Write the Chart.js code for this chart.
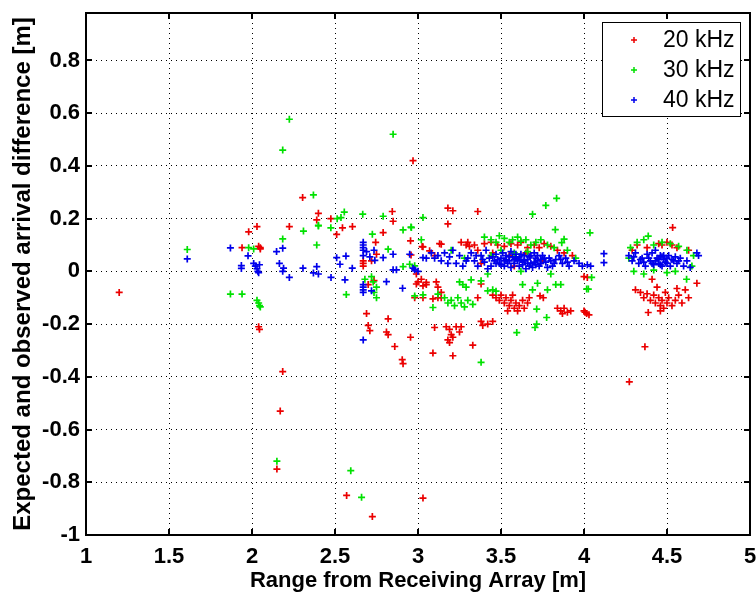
<!DOCTYPE html>
<html lang="en">
<head>
<meta charset="UTF-8">
<title>Expected and observed arrival difference</title>
<script src="https://cdn.jsdelivr.net/npm/chart.js"></script>
<style>
    html, body { margin: 0; padding: 0; background: #fff; }
    #wrap { width: 756px; height: 594px; }
</style>
</head>
<body>
<div id="wrap"><canvas id="scatter" width="756" height="594"></canvas></div>
<script>
// axis ticks
const xTicks = [1, 1.5, 2, 2.5, 3, 3.5, 4, 4.5, 5];
const yTicks = [-1, -0.8, -0.6, -0.4, -0.2, 0, 0.2, 0.4, 0.6, 0.8];
const seriesNames = ['20 kHz', '30 kHz', '40 kHz'];

// [range (m), arrival difference (m)]
const pts20 = [
    [1.20,-0.08],[1.94,0.09],[1.98,0.15],[2.03,0.17],[2.05,0.09],[2.05,0.085],[2.04,0.095],
    [2.04,-0.21],[2.045,-0.22],[2.185,-0.38],[2.17,-0.53],[2.15,-0.75],
    [2.225,0.17],[2.305,0.28],[2.39,0.195],[2.40,0.22],[2.475,0.20],[2.51,0.14],[2.545,0.165],[2.605,0.17],
    [2.57,-0.85],[2.725,-0.93],[3.03,-0.86],
    [2.67,0.04],[2.67,0.03],[2.67,0.02],[2.745,0.11],[2.75,0.065],[2.72,0.04],[2.735,-0.035],[2.70,-0.05],
    [2.79,0.147],[2.845,0.227],[2.85,0.19],[2.955,0.116],[3.025,0.094],[2.958,0.062],[2.97,0.42],
    [2.99,-0.048],[3.03,-0.055],[3.05,-0.042],
    [2.69,-0.16],[2.70,-0.205],[2.71,-0.225],[2.81,-0.23],[2.82,-0.24],[2.82,-0.18],[2.86,-0.285],
    [2.905,-0.335],[2.91,-0.35],[2.955,-0.25],
    [3.18,0.24],[3.21,0.23],[3.36,0.227],[3.18,0.18],
    [3.03,0.093],[3.14,0.103],[3.07,0.078],[3.10,0.06],
    [2.99,-0.01],[3.02,-0.03],[3.05,-0.05],[3.00,-0.04],
    [3.11,-0.04],[3.12,-0.06],[3.14,-0.08],[3.14,-0.10],[3.12,-0.10],[3.09,-0.104],[3.03,-0.10],[2.98,-0.10],
    [3.38,-0.048],[3.36,-0.10],
    [3.45,-0.09],[3.47,-0.10],[3.49,-0.11],[3.50,-0.09],[3.52,-0.12],[3.53,-0.10],[3.55,-0.13],[3.56,-0.11],
    [3.58,-0.14],[3.59,-0.12],[3.60,-0.15],[3.61,-0.13],[3.63,-0.11],[3.64,-0.14],[3.66,-0.12],[3.67,-0.10],
    [3.54,-0.15],[3.57,-0.09],[3.755,-0.10],[3.735,-0.093],
    [3.84,-0.14],[3.86,-0.15],[3.88,-0.14],[3.90,-0.155],[3.92,-0.15],[3.87,-0.16],
    [3.17,-0.21],[3.19,-0.22],[3.20,-0.24],[3.21,-0.25],[3.18,-0.26],[3.19,-0.27],[3.23,-0.21],[3.26,-0.21],
    [3.25,-0.23],[3.10,-0.213],[3.38,-0.19],[3.42,-0.20],[3.45,-0.19],[3.39,-0.205],
    [3.33,-0.28],[3.21,-0.32],[3.09,-0.31],
    [3.13,0.105],[3.26,0.11],[3.29,0.10],[3.30,0.11],[3.31,0.095],[3.34,0.10],[3.36,0.08],[3.40,0.105],
    [3.44,0.11],[3.48,0.10],[3.52,0.095],[3.56,0.105],[3.60,0.10],[3.62,0.11],[3.66,0.09],[3.70,0.10],
    [3.73,0.09],[3.76,0.105],[3.80,0.095],[3.84,0.08],[3.88,0.07],[3.93,0.06],[3.55,0.06],[3.45,0.07],
    [3.65,0.07],[3.38,0.03],[3.58,0.02],[3.75,0.04],
    [4.02,-0.023],[4.00,-0.02],[4.016,-0.16],[4.006,-0.155],[4.00,-0.15],[4.03,-0.165],
    [4.534,0.166],[4.41,-0.03],[4.68,-0.045],[4.387,-0.156],[4.367,-0.286],[4.273,-0.419],
    [4.32,0.10],[4.38,0.09],[4.45,0.105],[4.47,0.10],[4.50,0.11],[4.53,0.10],[4.56,0.09],[4.63,0.08],[4.29,0.08],
    [4.31,-0.07],[4.34,-0.08],[4.36,-0.10],[4.38,-0.085],[4.40,-0.11],[4.42,-0.09],[4.43,-0.12],[4.45,-0.10],
    [4.46,-0.13],[4.47,-0.11],[4.48,-0.14],[4.50,-0.12],[4.51,-0.10],[4.53,-0.13],[4.55,-0.11],[4.57,-0.09],
    [4.59,-0.12],[4.61,-0.07],[4.63,-0.10],[4.46,-0.15],[4.44,-0.06],[4.49,-0.08],[4.56,-0.065]
];

const pts30 = [
    [1.61,0.083],[1.87,-0.086],[1.94,-0.086],[1.98,0.09],[2.01,0.085],
    [2.03,-0.11],[2.04,-0.12],[2.045,-0.13],[2.05,-0.135],
    [2.15,-0.72],[2.595,-0.756],[2.66,-0.857],
    [2.225,0.577],[2.185,0.46],[2.85,0.52],
    [2.37,0.29],[2.40,0.175],[2.475,0.165],[2.31,0.153],[2.39,0.10],[2.185,0.123],[2.40,0.172],
    [2.513,0.20],[2.536,0.204],[2.556,0.225],[2.667,0.217],[2.79,0.209],[3.03,0.204],[2.725,0.141],
    [2.91,0.157],[2.958,0.168],[3.02,0.12],[2.82,0.084],
    [2.568,-0.088],[2.72,-0.02],[2.73,-0.04],[2.75,-0.06],[2.735,-0.08],[2.75,-0.10],[2.68,-0.03],
    [2.91,0.018],[2.95,0.027],[2.98,0.021],[2.98,-0.093],[3.03,-0.089],
    [3.835,0.277],[3.77,0.25],[3.69,0.217],[3.827,0.158],[4.036,0.146],[3.88,0.122],[3.866,0.109],[2.96,0.166],
    [3.09,-0.137],[3.12,-0.086],[3.16,-0.10],[3.18,-0.12],[3.20,-0.11],[3.22,-0.13],[3.24,-0.10],[3.26,-0.12],
    [3.28,-0.135],[3.30,-0.11],[3.33,-0.125],[3.25,-0.04],[3.27,-0.05],[3.29,-0.06],[3.32,-0.032],[3.38,-0.036],
    [3.42,-0.074],[3.45,-0.07],[3.47,-0.075],
    [3.63,-0.05],[3.69,-0.07],[3.72,-0.045],[3.78,-0.07],[3.83,-0.05],[3.86,-0.05],
    [3.715,-0.143],[3.775,-0.175],[3.715,-0.20],[3.705,-0.213],[3.595,-0.232],[3.38,-0.345],
    [4.016,-0.067],[4.046,-0.023],[4.026,-0.067],
    [3.40,0.13],[3.44,0.12],[3.47,0.11],[3.49,0.135],[3.52,0.125],[3.55,0.11],[3.57,0.12],[3.60,0.13],
    [3.62,0.115],[3.65,0.12],[3.68,0.10],[3.71,0.11],[3.74,0.12],[3.78,0.10],[3.82,0.09],[3.50,0.08],
    [3.58,0.07],[3.66,0.075],[3.44,0.06],[3.90,0.08],[3.95,0.05],[3.42,-0.01],[3.62,0.00],[3.80,-0.01],
    [3.28,0.05],[3.20,0.08],
    [4.387,0.134],[4.28,0.09],[4.32,0.11],[4.36,0.12],[4.42,0.10],[4.47,0.11],[4.52,0.105],[4.57,0.095],
    [4.62,0.08],[4.66,0.06],[4.30,0.00],[4.36,-0.01],[4.42,0.005],[4.50,-0.005],[4.55,0.00],[4.618,-0.03],
    [4.65,0.02],[4.27,0.05]
];

const pts40 = [
    [1.61,0.047],[1.87,0.089],[1.976,0.059],[1.936,0.022],[1.936,0.011],[2.01,0.03],[2.02,0.02],[2.03,0.01],
    [2.035,0.00],[2.04,-0.005],[2.045,0.025],
    [2.148,0.075],[2.185,0.088],[2.165,0.03],[2.19,0.012],[2.185,0.00],[2.225,-0.023],[2.307,0.012],
    [2.39,0.018],[2.37,-0.006],[2.40,-0.01],[2.476,-0.023],
    [2.51,0.052],[2.566,0.058],[2.53,0.027],[2.604,0.012],[2.56,-0.032],
    [2.67,0.11],[2.67,0.10],[2.67,0.09],[2.67,0.08],[2.67,0.06],[2.67,-0.05],[2.67,-0.06],[2.67,-0.07],
    [2.67,-0.08],[2.67,-0.26],
    [2.69,0.075],[2.735,0.08],[2.71,0.055],[2.74,0.042],[2.72,-0.074],
    [2.79,0.052],[2.85,0.065],[2.85,0.006],[2.87,0.006],[2.81,-0.039],[2.907,-0.064],
    [2.98,0.006],[3.03,0.052],[3.05,0.05],[2.95,0.065],[2.97,0.012],[3.00,0.00],
    [3.08,0.07],[3.10,0.05],[3.12,0.06],[3.14,0.04],[3.16,0.07],[3.18,0.03],[3.19,0.055],[3.21,0.08],
    [3.23,0.03],[3.25,0.06],[3.27,0.02],[3.30,0.05],[3.32,0.07],[3.34,0.04],[3.36,0.02],[3.38,0.06],
    [3.40,0.035],[3.41,0.08],[3.43,0.05],[3.44,0.02],[3.46,0.04],[3.47,0.065],[3.49,0.03],[3.50,0.05],
    [3.52,0.02],[3.53,0.06],[3.55,0.04],[3.56,0.075],[3.58,0.03],[3.59,0.05],[3.61,0.02],[3.62,0.065],
    [3.64,0.04],[3.65,0.01],[3.67,0.055],[3.68,0.03],[3.70,0.07],[3.72,0.04],[3.73,0.02],[3.75,0.06],
    [3.77,0.035],[3.79,0.05],[3.81,0.02],[3.83,0.045],[3.85,0.06],[3.87,0.03],[3.89,0.05],[3.91,0.02],
    [3.94,0.04],[3.97,0.03],[3.99,0.02],[4.02,0.025],[4.04,0.02],[4.12,0.067],[4.12,0.033],
    [3.42,0.01],[3.48,0.045],[3.51,0.07],[3.54,0.03],[3.57,0.055],[3.60,0.04],[3.63,0.025],[3.66,0.045],
    [3.69,0.015],[3.71,0.05],[3.74,0.03],[3.78,0.015],
    [3.45,0.055],[3.50,0.025],[3.53,0.045],[3.56,0.015],[3.59,0.065],[3.62,0.045],[3.64,0.06],[3.67,0.02],
    [3.70,0.035],[3.72,0.06],[3.76,0.05],[3.80,0.04],[3.52,0.04],[3.58,0.045],[3.61,0.055],[3.66,0.03],
    [3.68,0.06],[3.74,0.045],[3.39,0.045],[3.35,0.06],[3.29,0.04],[3.47,0.03],[3.55,0.055],[3.63,0.035],
    [3.71,0.025],[3.82,0.03],[3.86,0.045],[3.90,0.035],
    [4.27,0.06],[4.29,0.04],[4.31,0.07],[4.33,0.03],[4.35,0.05],[4.37,0.02],[4.38,0.065],[4.40,0.04],
    [4.41,0.07],[4.42,0.025],[4.44,0.05],[4.45,0.03],[4.46,0.06],[4.47,0.02],[4.48,0.045],[4.50,0.03],
    [4.51,0.06],[4.52,0.02],[4.54,0.04],[4.56,0.03],[4.58,0.05],[4.60,0.02],[4.62,0.04],[4.64,0.015],
    [4.68,0.07],[4.69,0.06],[4.43,0.08],[4.36,0.035],
    [4.39,0.05],[4.43,0.04],[4.45,0.045],[4.47,0.055],[4.49,0.035],[4.50,0.05],[4.53,0.045],[4.55,0.055],
    [4.46,0.025],[4.41,0.03],[4.34,0.045],[4.30,0.055],[4.57,0.04],[4.48,0.06]
];

const seriesColors = ['rgb(235,0,0)', 'rgb(0,225,0)', 'rgb(0,0,235)'];
const FONT = '"Liberation Sans", Arial, Helvetica, sans-serif';

function toXY(list) {
    return list.map(p => ({ x: p[0], y: p[1] }));
}

function makeSet(i, list) {
    return {
        label: seriesNames[i],
        data: toXY(list),
        pointStyle: 'cross',
        pointRadius: 3.5,
        pointBorderWidth: 1.7,
        borderColor: seriesColors[i],
        backgroundColor: seriesColors[i],
        order: 2 - i   // blue drawn last, on top
    };
}

// MATLAB style box, inward ticks and the boxed legend
const matlabFrame = {
    id: 'matlabFrame',
    afterDraw(chart) {
        const { ctx, chartArea } = chart;
        const { left, right, top, bottom } = chartArea;
        const xs = chart.scales.x, ys = chart.scales.y;
        ctx.save();
        ctx.strokeStyle = '#000';
        ctx.lineWidth = 2;
        ctx.strokeRect(left, top, right - left, bottom - top);
        ctx.beginPath();
        xTicks.forEach(v => {
            const px = Math.round(xs.getPixelForValue(v));
            ctx.moveTo(px, bottom); ctx.lineTo(px, bottom - 6);
            ctx.moveTo(px, top); ctx.lineTo(px, top + 6);
        });
        yTicks.forEach(v => {
            const py = Math.round(ys.getPixelForValue(v));
            ctx.moveTo(left, py); ctx.lineTo(left + 6, py);
            ctx.moveTo(right, py); ctx.lineTo(right - 6, py);
        });
        ctx.stroke();

        // legend
        const lx = right - 148, ly = top + 9, lw = 138, lh = 94;
        ctx.fillStyle = '#fff';
        ctx.fillRect(lx, ly, lw, lh);
        ctx.lineWidth = 1;
        ctx.strokeRect(lx + 0.5, ly + 0.5, lw, lh);
        ctx.font = '23px ' + FONT;
        ctx.textBaseline = 'middle';
        ctx.textAlign = 'left';
        chart.data.datasets.forEach((ds, i) => {
            const cy = ly + 18 + i * 30;
            const cx = lx + 32;
            ctx.strokeStyle = ds.borderColor;
            ctx.lineWidth = 1.5;
            ctx.beginPath();
            ctx.moveTo(cx - 3, cy); ctx.lineTo(cx + 3, cy);
            ctx.moveTo(cx, cy - 3); ctx.lineTo(cx, cy + 3);
            ctx.stroke();
            ctx.fillStyle = '#000';
            ctx.fillText(ds.label, lx + 61, cy + 1);
        });
        ctx.restore();
    }
};

const tickFont = { family: FONT, size: 22, weight: 'bold' };

new Chart(document.getElementById('scatter'), {
    type: 'scatter',
    data: {
        datasets: [makeSet(0, pts20), makeSet(1, pts30), makeSet(2, pts40)]
    },
    options: {
        responsive: false,
        animation: false,
        devicePixelRatio: 1,
        layout: { padding: { top: 13, right: 6, left: 0, bottom: 0 } },
        plugins: {
            legend: { display: false },
            tooltip: { enabled: false }
        },
        scales: {
            x: {
                type: 'linear',
                min: 1,
                max: 5,
                afterBuildTicks: axis => { axis.ticks = xTicks.map(v => ({ value: v })); },
                afterFit: axis => {
                    axis.height = 59;
                    axis.paddingLeft = 0;
                    axis.paddingRight = 0;
                },
                grid: { color: '#000', lineWidth: 1, drawTicks: false },
                border: { display: false, dash: [1, 4] },
                ticks: {
                    color: '#000',
                    font: tickFont,
                    padding: 9,
                    maxRotation: 0,
                    callback: v => String(+v.toFixed(1))
                },
                title: {
                    display: true,
                    text: 'Range from Receiving Array [m]',
                    color: '#000',
                    font: { family: FONT, size: 22, weight: 'bold' },
                    padding: { top: 0, bottom: 0 }
                }
            },
            y: {
                type: 'linear',
                min: -1,
                max: 0.98,
                afterBuildTicks: axis => { axis.ticks = yTicks.map(v => ({ value: v })); },
                afterFit: axis => {
                    axis.width = 86;
                    axis.paddingTop = 0;
                    axis.paddingBottom = 0;
                },
                grid: { color: '#000', lineWidth: 1, drawTicks: false },
                border: { display: false, dash: [1, 4] },
                ticks: {
                    color: '#000',
                    font: tickFont,
                    padding: 6,
                    callback: v => String(+v.toFixed(1))
                },
                title: {
                    display: true,
                    text: 'Expected and observed arrival difference [m]',
                    color: '#000',
                    font: { family: FONT, size: 24, weight: 'bold' },
                    padding: { top: 9, bottom: 0 }
                }
            }
        }
    },
    plugins: [matlabFrame]
});
</script>
</body>
</html>
